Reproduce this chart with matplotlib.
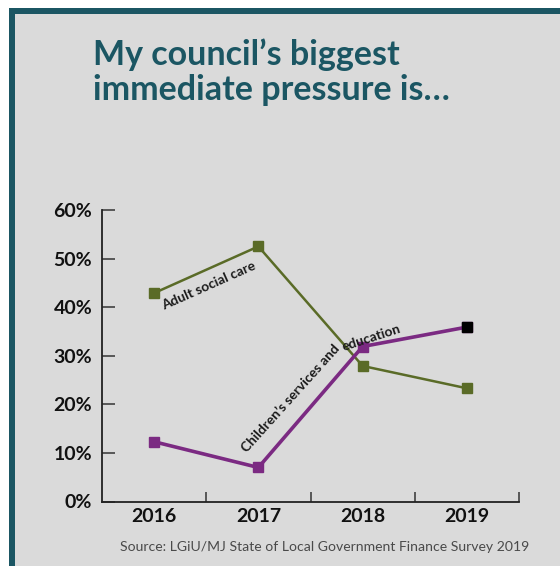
import matplotlib
matplotlib.use("Agg")
import matplotlib.pyplot as plt
from matplotlib.patches import Rectangle

years = ["2016", "2017", "2018", "2019"]
adult_social_care = [42.9, 52.5, 27.9, 23.3]
childrens_services = [12.3, 7.0, 31.9, 35.9]
y_ticks = [0, 10, 20, 30, 40, 50, 60]

TEAL = "#1b5663"
BG = "#dadada"
OLIVE = "#5a6b27"
PURPLE = "#7b2a82"

plt.rcParams["font.family"] = ["Lato", "DejaVu Sans"]

fig = plt.figure(figsize=(5.6, 5.66), dpi=100)
fig.patch.set_facecolor("white")

# panel background with a teal frame on the top and left
fig.add_artist(Rectangle((9 / 560, 0), 1, 1 - 8 / 566, transform=fig.transFigure,
                         facecolor=TEAL, edgecolor="none", zorder=-3))
fig.add_artist(Rectangle((15 / 560, 0), 1, 1 - 14 / 566,
                         transform=fig.transFigure, facecolor=BG,
                         edgecolor="none", zorder=-2))

for i, line in enumerate(["My council\u2019s biggest", "immediate pressure is\u2026"]):
    fig.text(93 / 560, 1 - (65 + 35 * i) / 566, line, color=TEAL, fontsize=24.5,
             fontweight="bold", ha="left", va="baseline")

ax = fig.add_axes([102 / 560, 1 - 501.5 / 566, 417 / 560, 291.5 / 566])
ax.set_facecolor("none")
x = range(len(years))

ax.plot(x, adult_social_care, color=OLIVE, lw=1.8, marker="s", ms=7.5,
        mfc=OLIVE, mec=OLIVE, zorder=3)
ax.plot(x, childrens_services, color=PURPLE, lw=2.6, marker="s", ms=6.5,
        mfc=PURPLE, mec=PURPLE, zorder=3)
ax.plot([x[-1]], [childrens_services[-1]], ls="none", marker="s", ms=6.5,
        mfc="black", mec="black", zorder=4)

ax.set_xlim(-0.5, 3.5)
ax.set_ylim(0, 60)
ax.set_xticks(list(x))
ax.set_xticklabels(years)
ax.set_xticks([0.5, 1.5, 2.5, 3.5], minor=True)
ax.set_yticks(y_ticks)
ax.set_yticklabels([f"{v}%" for v in y_ticks])
ax.tick_params(axis="x", which="major", length=0, pad=5, labelsize=14,
               labelcolor="#111111")
ax.tick_params(axis="x", which="minor", length=7, direction="in", width=1.1,
               color="#333333")
ax.tick_params(axis="y", length=9, direction="in", width=1.1, color="#333333",
               pad=7, labelsize=14, labelcolor="#111111")
for lab in ax.get_xticklabels() + ax.get_yticklabels():
    lab.set_fontweight("bold")
for side in ("top", "right"):
    ax.spines[side].set_visible(False)
for side in ("left", "bottom"):
    ax.spines[side].set_color("#222222")
    ax.spines[side].set_linewidth(1.3)

# series labels following the lines
label_style = dict(fontsize=9.9, fontweight="bold", color="#1a1a1a",
                   ha="left", va="baseline", rotation_mode="anchor")
ax.text(0.1, 39.4, "Adult social care", rotation=24, **label_style)
ax.text(0.89, 10.0, "Children\u2019s services and", rotation=48, **label_style)
ax.text(1.82, 31.0, "education", rotation=18, **label_style)

fig.text(120 / 560, 1 - 551 / 566,
         "Source: LGiU/MJ State of Local Government Finance Survey 2019",
         color="#4a4a4a", fontsize=10.1, ha="left", va="baseline")

fig.savefig("out.png", dpi=100, facecolor=fig.get_facecolor())
